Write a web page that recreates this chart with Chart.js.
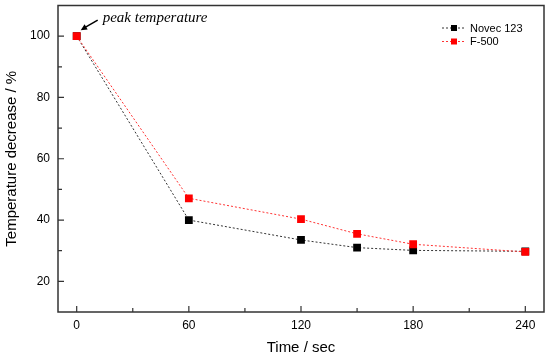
<!DOCTYPE html>
<html lang="en">
<head>
    <meta charset="UTF-8">
    <title>Temperature decrease</title>
    <script src="https://cdn.jsdelivr.net/npm/chart.js"></script>
    <style>
        html, body {margin: 0; padding: 0; background: #fff;}
        #wrap {width: 550px; height: 359px;}
    </style>
</head>
<body>
    <div id="wrap"><canvas id="chart" width="550" height="359"></canvas></div>
    <script>
        // data
        const times = [0, 60, 120, 150, 180, 240];
        const novec123 = [100, 40, 33.5, 31, 30.1, 29.8];
        const f500 = [100, 47.1, 40.3, 35.5, 32.1, 29.6];
        const xTicks = [0, 60, 120, 180, 240];
        const xMinor = [30, 90, 150, 210];
        const yTicks = [20, 40, 60, 80, 100];
        const yMinor = [30, 50, 70, 90];

        const pts = vals => times.map((t, i) => ({x: t, y: vals[i]}));

        // frame, inward ticks, legend and the "peak temperature" note
        const decor = {
            id: 'decor',
            afterDatasetsDraw(chart) {
                const ctx = chart.ctx;
                const {left, right, top, bottom} = chart.chartArea;
                const xs = chart.scales.x, ys = chart.scales.y;
                ctx.save();
                ctx.strokeStyle = '#333';
                ctx.lineWidth = 1.5;
                ctx.strokeRect(left, top, right - left, bottom - top);

                ctx.lineWidth = 1.2;
                ctx.beginPath();
                xTicks.forEach(v => { const px = xs.getPixelForValue(v); ctx.moveTo(px, bottom); ctx.lineTo(px, bottom - 6); });
                xMinor.forEach(v => { const px = xs.getPixelForValue(v); ctx.moveTo(px, bottom); ctx.lineTo(px, bottom - 4); });
                yTicks.forEach(v => { const py = ys.getPixelForValue(v); ctx.moveTo(left, py); ctx.lineTo(left + 6, py); });
                yMinor.forEach(v => { const py = ys.getPixelForValue(v); ctx.moveTo(left, py); ctx.lineTo(left + 4, py); });
                ctx.stroke();

                // legend
                let ly = 28;
                [0, 1].forEach(i => {
                    const ds = chart.data.datasets[i];
                    ctx.strokeStyle = ds.borderColor;
                    ctx.lineWidth = 1;
                    ctx.setLineDash([2, 2]);
                    ctx.beginPath();
                    ctx.moveTo(442, ly); ctx.lineTo(466, ly);
                    ctx.stroke();
                    ctx.setLineDash([]);
                    ctx.fillStyle = ds.pointBackgroundColor;
                    ctx.fillRect(451, ly - 3, 6, 6);
                    ctx.fillStyle = '#000';
                    ctx.font = '11px "Liberation Sans", Arial, sans-serif';
                    ctx.textBaseline = 'middle';
                    ctx.fillText(ds.label, 470, ly + 0.5);
                    ly += 13.5;
                });

                // annotation pointing at the first point
                const px = xs.getPixelForValue(times[0]);
                const py = ys.getPixelForValue(f500[0]);
                const tx = px + 4, ty = py - 6;
                const sx = px + 21, sy = py - 16;
                ctx.strokeStyle = '#000';
                ctx.fillStyle = '#000';
                ctx.lineWidth = 1.5;
                ctx.beginPath();
                ctx.moveTo(sx, sy); ctx.lineTo(tx + 4, ty - 2.5);
                ctx.stroke();
                const ang = Math.atan2(ty - sy, tx - sx);
                ctx.beginPath();
                ctx.moveTo(tx, ty);
                ctx.lineTo(tx - 7 * Math.cos(ang - 0.45), ty - 7 * Math.sin(ang - 0.45));
                ctx.lineTo(tx - 7 * Math.cos(ang + 0.45), ty - 7 * Math.sin(ang + 0.45));
                ctx.closePath();
                ctx.fill();
                ctx.font = 'italic 15px "Liberation Serif", "Times New Roman", serif';
                ctx.textBaseline = 'alphabetic';
                ctx.fillText('peak temperature', px + 26, py - 14);
                ctx.restore();
            }
        };

        const tickFont = { family: '"Liberation Sans", Arial, sans-serif', size: 12 };
        const titleFont = { family: '"Liberation Sans", Arial, sans-serif', size: 15 };

        new Chart(document.getElementById('chart').getContext('2d'), {
            type: 'line',
            data: {
                datasets: [{
                    label: 'Novec 123',
                    data: pts(novec123),
                    order: 1,
                    borderColor: '#333',
                    borderWidth: 1,
                    borderDash: [2, 2],
                    pointStyle: 'rect',
                    pointRadius: 5.5,
                    pointBorderWidth: 0,
                    pointBackgroundColor: '#000',
                    tension: 0
                }, {
                    label: 'F-500',
                    data: pts(f500),
                    order: 0,
                    borderColor: '#ff3333',
                    borderWidth: 1,
                    borderDash: [2, 2],
                    pointStyle: 'rect',
                    pointRadius: 5.5,
                    pointBorderWidth: 0,
                    pointBackgroundColor: '#ff0000',
                    tension: 0
                }]
            },
            options: {
                responsive: false,
                animation: false,
                layout: { padding: { top: 5, right: 6, left: 0, bottom: 0 } },
                plugins: { legend: { display: false }, tooltip: { enabled: false } },
                scales: {
                    x: {
                        type: 'linear',
                        min: -10, max: 250,
                        grid: { display: false, tickLength: 0 },
                        border: { display: false },
                        afterBuildTicks: s => { s.ticks = xTicks.map(v => ({value: v})); },
                        afterFit: s => { s.height = 47; s.paddingLeft = 0; s.paddingRight = 0; },
                        ticks: { color: '#000', padding: 6, font: tickFont },
                        title: { display: true, text: 'Time / sec', color: '#000', padding: { top: 0, bottom: 2 }, font: titleFont }
                    },
                    y: {
                        min: 10, max: 110,
                        grid: { display: false, tickLength: 0 },
                        border: { display: false },
                        afterBuildTicks: s => { s.ticks = yTicks.map(v => ({value: v})); },
                        afterFit: s => { s.width = 58; s.paddingTop = 0; s.paddingBottom = 0; },
                        ticks: { color: '#000', padding: 8, font: tickFont },
                        title: { display: true, text: 'Temperature decrease / %', color: '#000', padding: { top: 3, bottom: 0 }, font: titleFont }
                    }
                }
            },
            plugins: [decor]
        });
    </script>
</body>
</html>
